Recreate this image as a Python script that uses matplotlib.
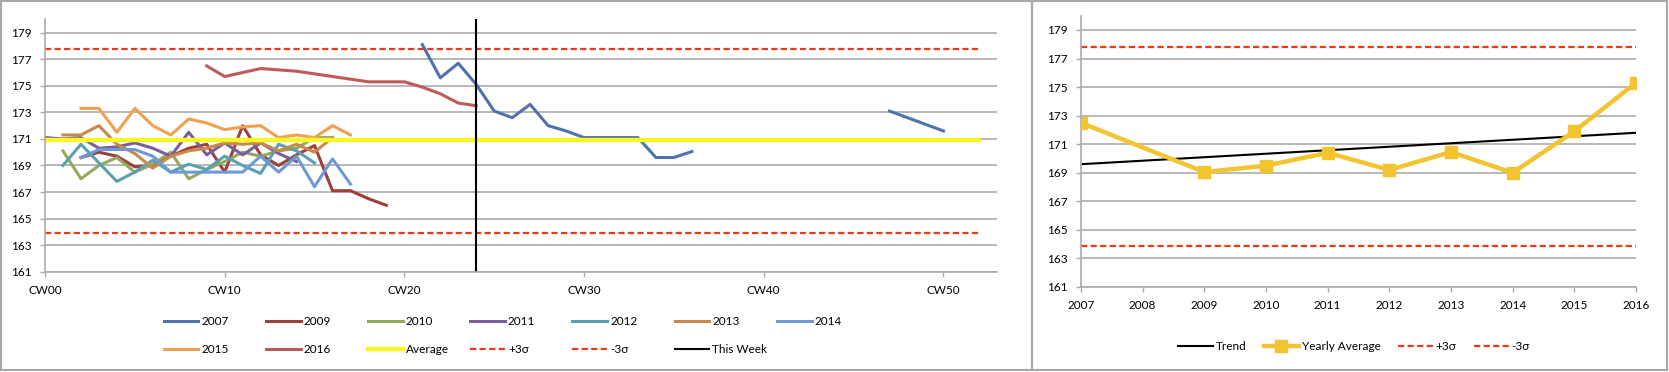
import numpy as np
import matplotlib.pyplot as plt
from matplotlib.patches import Rectangle

plt.rcParams['font.family'] = ['Lato', 'DejaVu Sans']
plt.rcParams['font.size'] = 8.5

nan = np.nan
weeks = np.arange(0, 53)

# weekly values, list starts at the given calendar week
start_2007 = 21
y2007 = [178.1, 175.6, 176.7, 175.1, 173.1, 172.6, 173.6, 172.0, 171.6, 171.1,
         171.1, 171.1, 171.1, 169.6, 169.6, 170.05,
         nan, nan, nan, nan, nan, nan, nan, nan, nan, nan,
         173.1, 172.6, 172.1, 171.6]
start_2009 = 2
y2009 = [169.6, 170.0, 169.7, 168.9, 169.0, 169.7, 170.3, 170.6, 168.5, 172.0,
         169.8, 169.0, 169.8, 170.5, 167.1, 167.1, 166.5, 166.0]
start_2010 = 1
y2010 = [170.1, 168.0, 169.0, 169.6, 168.5, 169.1, 170.0, 168.0, 168.7, 169.3,
         170.0, 169.7, 170.1, 170.3, 171.1, 171.1]
start_2011 = 0
y2011 = [171.1, 171.0, 171.1, 170.3, 170.4, 170.7, 170.3, 169.7, 171.5, 169.8,
         170.7, 169.8, 170.7, 169.9, 169.3]
start_2012 = 1
y2012 = [169.0, 170.6, 169.2, 167.8, 168.5, 169.4, 168.5, 169.1, 168.7, 169.7,
         169.0, 168.4, 170.6, 170.1, 169.2]
start_2013 = 1
y2013 = [171.3, 171.3, 172.0, 170.6, 169.9, 168.8, 169.7, 170.1, 170.3, 170.7,
         170.6, 170.7, 170.1, 170.6, 170.0, 171.1]
start_2014 = 2
y2014 = [169.6, 170.2, 170.2, 170.2, 169.7, 168.5, 168.5, 168.5, 168.5, 168.5,
         169.7, 168.5, 169.7, 167.4, 169.5, 167.6]
start_2015 = 2
y2015 = [173.3, 173.3, 171.5, 173.3, 172.0, 171.3, 172.5, 172.2, 171.7, 171.9,
         172.0, 171.1, 171.3, 171.1, 172.0, 171.3]
start_2016 = 9
y2016 = [176.5, 175.7, 176.0, 176.3, 176.2, 176.1, 175.9, 175.7, 175.5, 175.3,
         175.3, 175.3, 174.9, 174.4, 173.7, 173.5]

average = 170.9
plus3 = 177.8
minus3 = 163.9
this_week = 24

years = [2007, 2008, 2009, 2010, 2011, 2012, 2013, 2014, 2015, 2016]
yearly_avg = [172.5, nan, 169.05, 169.5, 170.4, 169.2, 170.45, 169.0, 171.9, 175.3]
trend_ends = [169.6, 171.8]

yticks = np.arange(161, 180, 2)
grid_c = '#ABABAB'
red = '#EA3A17'
dash = (0, (2.8, 1.5))

fig = plt.figure(figsize=(16.69, 3.72), dpi=100)

# panel borders
fig.patches.append(Rectangle((0.0006, 0.006), 0.6178, 0.991, transform=fig.transFigure,
                             fill=False, ec='#A8A8A8', lw=1.5))
fig.patches.append(Rectangle((0.6184, 0.006), 0.3806, 0.991, transform=fig.transFigure,
                             fill=False, ec='#A8A8A8', lw=1.5))


def style_axes(ax):
    ax.set_ylim(161, 180)
    ax.set_yticks(yticks)
    ax.grid(axis='y', color=grid_c, lw=1.2)
    ax.set_axisbelow(True)
    for s in ['top', 'right']:
        ax.spines[s].set_visible(False)
    for s in ['left', 'bottom']:
        ax.spines[s].set_color(grid_c)
        ax.spines[s].set_linewidth(1.2)
    ax.tick_params(direction='out', length=3.5, width=1, color=grid_c, pad=6, labelsize=8.5)


# ---- left chart: weekly values ----
ax = fig.add_axes([0.02696, 0.2696, 0.5706, 0.6782])
style_axes(ax)

year_series = [
    ('2007', start_2007, y2007, '#4E72AA'),
    ('2009', start_2009, y2009, '#9E3F3C'),
    ('2010', start_2010, y2010, '#94AA5A'),
    ('2011', start_2011, y2011, '#7A5D9E'),
    ('2012', start_2012, y2012, '#5AA0B3'),
    ('2013', start_2013, y2013, '#C8894A'),
    ('2014', start_2014, y2014, '#6D9AD6'),
    ('2015', start_2015, y2015, '#F0A050'),
    ('2016', start_2016, y2016, '#BE5A57'),
]
handles = []
for name, start, vals, col in year_series:
    x = weeks[start:start + len(vals)]
    h, = ax.plot(x, vals, color=col, lw=2.2, label=name)
    handles.append(h)

h, = ax.plot(weeks, np.full(len(weeks), average), color='#F7F728', lw=3.2, label='Average')
handles.append(h)
h, = ax.plot(weeks, np.full(len(weeks), plus3), color=red, lw=1.6, ls=dash, label='+3σ')
handles.append(h)
h, = ax.plot(weeks, np.full(len(weeks), minus3), color=red, lw=1.6, ls=dash, label='-3σ')
handles.append(h)
h = ax.axvline(this_week, color='black', lw=1.5, label='This Week')
handles.append(h)

ax.set_xlim(0, 53)
ax.set_xticks(np.arange(0, 51, 10))
ax.set_xticklabels(['CW%02d' % w for w in range(0, 51, 10)])

# legend laid out in two rows of seven columns
for i, h in enumerate(handles):
    row, col = divmod(i, 7)
    fig.legend(handles=[h], labels=[h.get_label()], loc='center left',
               bbox_to_anchor=((163.5 + col * 102.2) / 1669, 1 - (321.5 + row * 27.8) / 372),
               frameon=False, borderpad=0, borderaxespad=0, handlelength=2.96,
               handletextpad=0.25, fontsize=8.5)

# ---- right chart: yearly averages ----
ax2 = fig.add_axes([0.6477, 0.2285, 0.3325, 0.7293])
style_axes(ax2)
xpos = np.arange(len(years))
avg = np.array(yearly_avg)
ok = ~np.isnan(avg)

h1, = ax2.plot([xpos[0], xpos[-1]], trend_ends, color='black', lw=1.5, label='Trend')
h2, = ax2.plot(xpos[ok], avg[ok], color='#F4C430', lw=3.2, marker='s', ms=9,
               label='Yearly Average', zorder=3)
h3, = ax2.plot(xpos, np.full(len(xpos), plus3), color=red, lw=1.6, ls=dash, label='+3σ')
h4, = ax2.plot(xpos, np.full(len(xpos), minus3), color=red, lw=1.6, ls=dash, label='-3σ')
ax2.set_xlim(xpos[0], xpos[-1])
ax2.set_xticks(xpos)
ax2.set_xticklabels([str(y) for y in years])
for t in ax2.get_xticklabels():
    t.set_clip_on(False)

fig.legend(handles=[h1, h2, h3, h4], loc='center', ncol=4,
           bbox_to_anchor=(1354 / 1669, 1 - 346.5 / 372), frameon=False,
           borderpad=0, borderaxespad=0, handlelength=2.96, handletextpad=0.25,
           columnspacing=1.45, fontsize=8.5)

fig.savefig('out.png', dpi=100)
